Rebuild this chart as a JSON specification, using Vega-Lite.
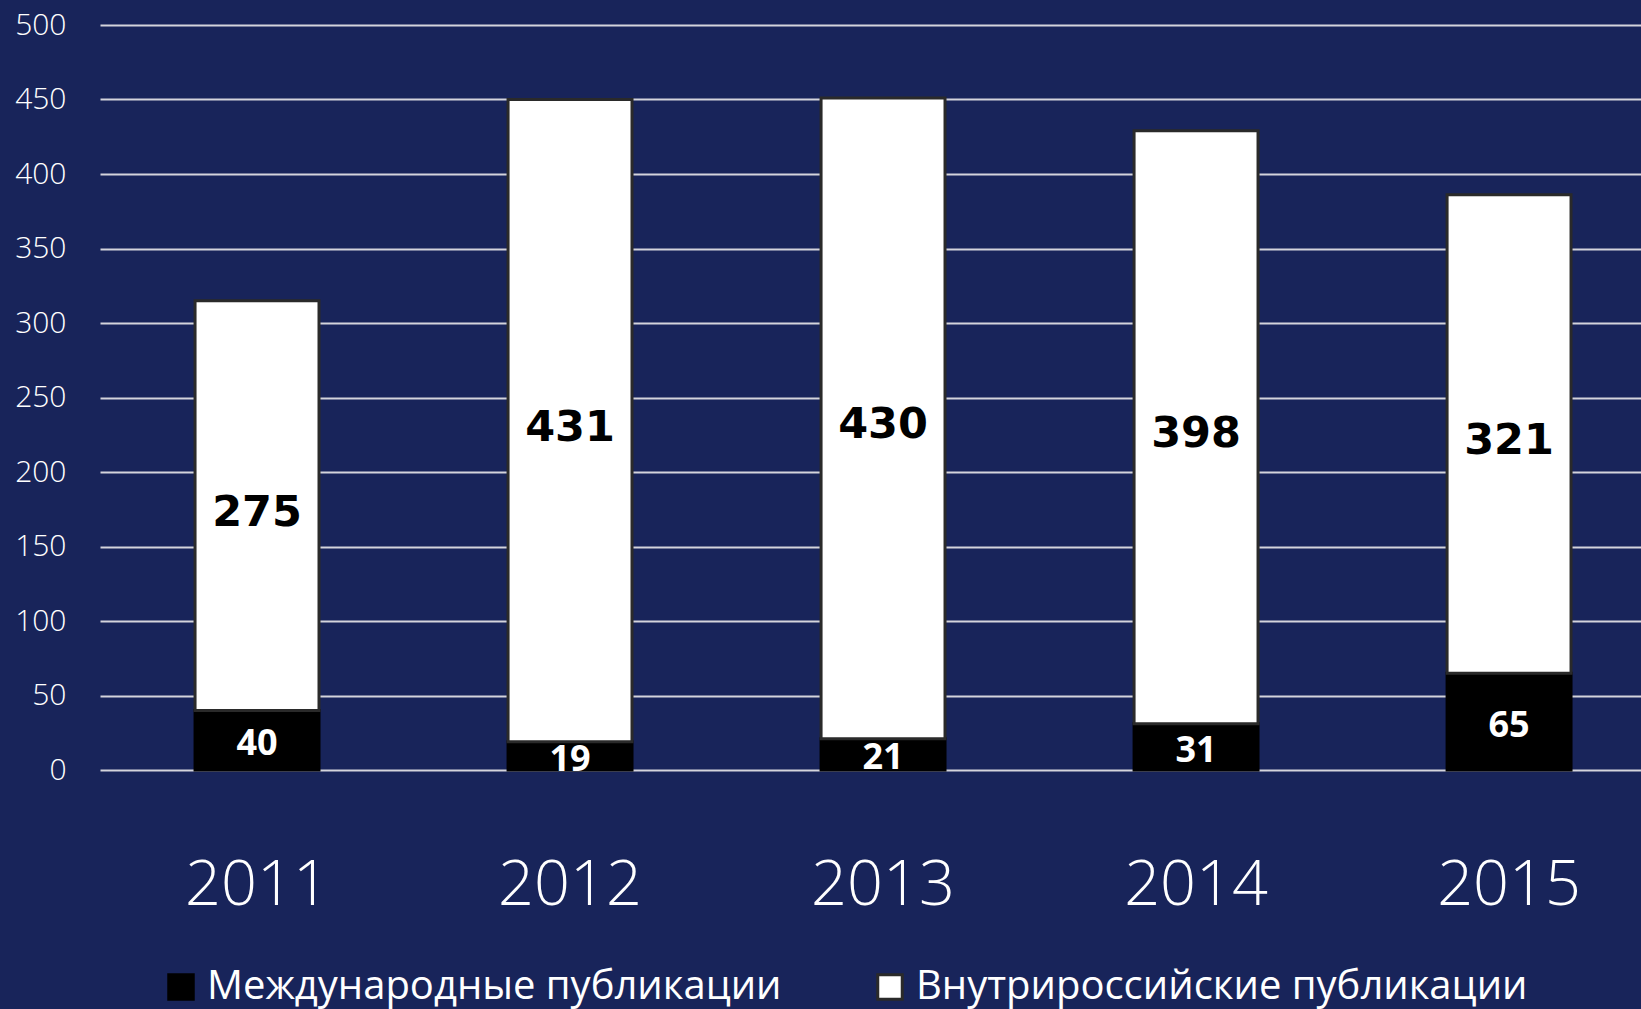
{
  "$schema": "https://vega.github.io/schema/vega-lite/v6.json",
  "autosize": {"type": "none"},
  "width": 1541,
  "height": 745,
  "padding": {"left": 100, "top": 25, "right": 0, "bottom": 239},
  "background": "#18245a",
  "config": {
    "view": {"stroke": null},
    "font": "Open Sans"
  },
  "data": {
    "values": [
      {"year": "2011", "series": "Международные публикации", "value": 40},
      {"year": "2011", "series": "Внутрироссийские публикации", "value": 275},
      {"year": "2012", "series": "Международные публикации", "value": 19},
      {"year": "2012", "series": "Внутрироссийские публикации", "value": 431},
      {"year": "2013", "series": "Международные публикации", "value": 21},
      {"year": "2013", "series": "Внутрироссийские публикации", "value": 430},
      {"year": "2014", "series": "Международные публикации", "value": 31},
      {"year": "2014", "series": "Внутрироссийские публикации", "value": 398},
      {"year": "2015", "series": "Международные публикации", "value": 65},
      {"year": "2015", "series": "Внутрироссийские публикации", "value": 321}
    ]
  },
  "encoding": {
    "x": {
      "field": "year", "type": "nominal", "title": null,
      "scale": {"paddingInner": 0.604, "paddingOuter": 0.2636, "align": 0.576},
      "axis": {"labelAngle": 0, "labelFontSize": 63, "labelColor": "#ffffff", "labelFont": "Open Sans", "labelFontWeight": 300, "ticks": false, "domain": false, "labelPadding": 84, "grid": false}
    },
    "y": {
      "field": "value", "type": "quantitative", "stack": "zero", "title": null,
      "scale": {"domain": [0, 500]},
      "axis": {"values": [0, 50, 100, 150, 200, 250, 300, 350, 400, 450, 500], "labelFontSize": 30, "labelColor": "#ffffff", "labelFontWeight": 300, "ticks": false, "domain": false, "labelPadding": 34, "gridColor": "#d4d4dc", "gridWidth": 2, "gridOpacity": 1}
    },
    "order": {"field": "series", "sort": "descending"}
  },
  "layer": [
    {
      "mark": {"type": "bar", "strokeWidth": 3},
      "encoding": {
        "fill": {
          "field": "series", "type": "nominal",
          "scale": {"domain": ["Международные публикации", "Внутрироссийские публикации"], "range": ["#000000", "#ffffff"]},
          "legend": {"title": null, "orient": "none", "legendX": 61, "legendY": 942, "direction": "horizontal", "symbolType": "square", "symbolSize": 600, "symbolStrokeWidth": 3, "labelFontSize": 40, "labelColor": "#ffffff", "labelOffset": 6, "columnPadding": 88, "labelLimit": 800}
        },
        "stroke": {
          "field": "series", "type": "nominal",
          "scale": {"domain": ["Международные публикации", "Внутрироссийские публикации"], "range": ["#000000", "#2a2a2a"]},
          "legend": {"title": null, "orient": "none", "legendX": 61, "legendY": 942, "direction": "horizontal", "symbolType": "square", "symbolSize": 600, "symbolStrokeWidth": 3, "labelFontSize": 40, "labelColor": "#ffffff", "labelOffset": 6, "columnPadding": 88, "labelLimit": 800}
        }
      }
    },
    {
      "mark": {"type": "text", "font": "DejaVu Sans", "fontWeight": "bold", "fontSize": 43, "baseline": "middle", "align": "center", "color": "#000000", "dy": 7},
      "encoding": {
        "y": {"field": "value", "type": "quantitative", "stack": "zero", "bandPosition": 0.5},
        "text": {"field": "value", "type": "quantitative"},
        "opacity": {"condition": {"test": "datum.series === 'Международные публикации'", "value": 0}, "value": 1}
      }
    },
    {
      "mark": {"type": "text", "font": "Open Sans", "fontWeight": "bold", "fontSize": 36, "baseline": "middle", "align": "center", "color": "#ffffff", "dy": 4},
      "encoding": {
        "y": {"field": "value", "type": "quantitative", "stack": "zero", "bandPosition": 0.5},
        "text": {"field": "value", "type": "quantitative"},
        "opacity": {"condition": {"test": "datum.series === 'Международные публикации'", "value": 1}, "value": 0}
      }
    }
  ]
}
